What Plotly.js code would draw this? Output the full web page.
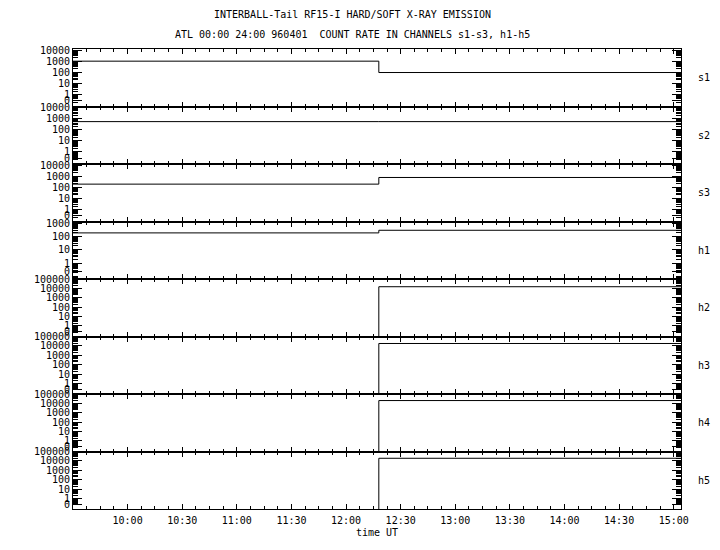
<!DOCTYPE html>
<html>
<head>
<meta charset="utf-8">
<script src="https://cdn.plot.ly/plotly-3.0.1.min.js"></script>
<style>html,body{margin:0;padding:0;background:#fff;}#chart{width:720px;height:550px;}</style>
</head>
<body>
<div id="chart"></div>
<script>
// ---- data ----
const times = ['1996-04-01 09:30:00', '1996-04-01 12:18:00', '1996-04-01 15:04:00'];
const channels = ['s1', 's2', 's3', 'h1', 'h2', 'h3', 'h4', 'h5'];
const s1 = [1000, 94, 94];
const s2 = [540, 540, 540];
const s3 = [190, 760, 760];
const h1 = [187, 295, 295];
const h2 = [0, 15000, 15000];
const h3 = [0, 18000, 18000];
const h4 = [0, 20000, 20000];
const h5 = [0, 19000, 19000];
const xTickLabels = ['10:00', '10:30', '11:00', '11:30', '12:00', '12:30', '13:00', '13:30', '14:00', '14:30', '15:00'];
const sTickText = ['0', '1', '10', '100', '1000', '10000'];
const h1TickText = ['0', '1', '10', '100', '1000'];
const hTickText = ['0', '1', '10', '100', '1000', '10000', '100000'];
const titleLine1 = 'INTERBALL-Tail RF15-I HARD/SOFT X-RAY EMISSION';
const titleLine2 = 'ATL 00:00 24:00 960401  COUNT RATE IN CHANNELS s1-s3, h1-h5';

const series = [s1, s2, s3, h1, h2, h3, h4, h5];
const tickTexts = [sTickText, sTickText, sTickText, h1TickText, hTickText, hTickText, hTickText, hTickText];

// ---- styling ----
const FONT = 'DejaVu Sans Mono, Liberation Mono, monospace';
const yRanges = [[-1.1, 4.1], [-1.1, 4.1], [-1.1, 4.1], [-1.2, 3.13], [-1.13, 5.0], [-1.13, 5.0], [-1.13, 5.0], [-1.13, 5.0]];
const ZERO_POS = 0.25;     // where the "0" label sits on the log scale
const ZERO_FLOOR = 1e-3;   // zero counts are drawn below the axis floor
const xRange = ['1996-04-01 09:30:00', '1996-04-01 15:04:00'];
const n = channels.length;

const majorX = xTickLabels.map(l => '1996-04-01 ' + l + ':00');
const minorX = [];
{
  const t0 = new Date('1996-04-01T09:30:00Z').getTime();
  const t1 = new Date('1996-04-01T15:04:00Z').getTime();
  for (let t = t0; t <= t1; t += 450000) {
    const d = new Date(t);
    const hh = String(d.getUTCHours()).padStart(2, '0');
    const mm = String(d.getUTCMinutes()).padStart(2, '0');
    const ss = String(d.getUTCSeconds()).padStart(2, '0');
    minorX.push('1996-04-01 ' + hh + ':' + mm + ':' + ss);
  }
}

const traces = [];
const layout = {
  width: 720, height: 550,
  margin: {l: 73, r: 39, t: 49, b: 41},
  paper_bgcolor: '#fff', plot_bgcolor: '#fff',
  showlegend: false,
  font: {family: FONT, size: 10, color: '#000'},
  annotations: []
};

for (let i = 0; i < n; i++) {
  const k = i + 1;
  const top = 1 - i / n, bot = 1 - (i + 1) / n;
  traces.push({
    x: times,
    y: series[i].map(v => v > 0 ? v : ZERO_FLOOR),
    xaxis: 'x' + k, yaxis: 'y' + k,
    type: 'scatter', mode: 'lines',
    line: {shape: 'hv', color: '#000', width: 1},
    hoverinfo: 'skip'
  });
  const tt = tickTexts[i];
  const tv = tt.map((t, j) => j === 0 ? ZERO_POS : Math.pow(10, j - 1));
  const minorV = [];
  for (let e = -2; e < tt.length; e++) {
    for (let m = 2; m <= 9; m++) minorV.push(m * Math.pow(10, e));
  }
  layout['yaxis' + k] = {
    type: 'log', domain: [bot, top], range: yRanges[i],
    anchor: 'x' + k,
    tickmode: 'array', tickvals: tv, ticktext: tt,
    ticks: 'inside', ticklen: 9, tickwidth: 1, tickcolor: '#000',
    minor: {tickmode: 'array', tickvals: minorV, ticks: 'inside', ticklen: 5, tickwidth: 1, tickcolor: '#000', showgrid: false},
    showline: true, linecolor: '#000', linewidth: 1, mirror: 'allticks',
    showgrid: false, zeroline: false,
    tickfont: {family: FONT, size: 10, color: '#000'},
    fixedrange: true
  };
  layout['xaxis' + k] = {
    type: 'date', range: xRange, anchor: 'y' + k,
    tickmode: 'array', tickvals: majorX, ticktext: xTickLabels,
    ticks: 'inside', ticklen: 5, tickwidth: 1, tickcolor: '#000',
    minor: {tickmode: 'array', tickvals: minorX, ticks: 'inside', ticklen: 3, tickwidth: 1, tickcolor: '#000', showgrid: false},
    showline: true, linecolor: '#000', linewidth: 1, mirror: 'allticks',
    showgrid: false, zeroline: false,
    showticklabels: i === n - 1,
    ticklabelstandoff: 2,
    tickfont: {family: FONT, size: 10, color: '#000'},
    fixedrange: true
  };
  layout.annotations.push({
    xref: 'paper', yref: 'paper', x: 1.025, y: (top + bot) / 2,
    xanchor: 'left', yanchor: 'middle', showarrow: false,
    text: channels[i], font: {family: FONT, size: 10, color: '#000'}
  });
}
layout['xaxis' + n].title = {text: 'time UT', font: {family: FONT, size: 10, color: '#000'}, standoff: 3};

layout.annotations.push({
  xref: 'paper', yref: 'paper', x: 0.46, y: 1 + (49 - 15) / 460,
  xanchor: 'center', yanchor: 'middle', showarrow: false,
  text: titleLine1, font: {family: FONT, size: 10, color: '#000'}
});
layout.annotations.push({
  xref: 'paper', yref: 'paper', x: 0.46, y: 1 + (49 - 34) / 460,
  xanchor: 'center', yanchor: 'middle', showarrow: false,
  text: titleLine2, font: {family: FONT, size: 10, color: '#000'}
});

Plotly.newPlot('chart', traces, layout, {staticPlot: true, displayModeBar: false});
</script>
</body>
</html>
